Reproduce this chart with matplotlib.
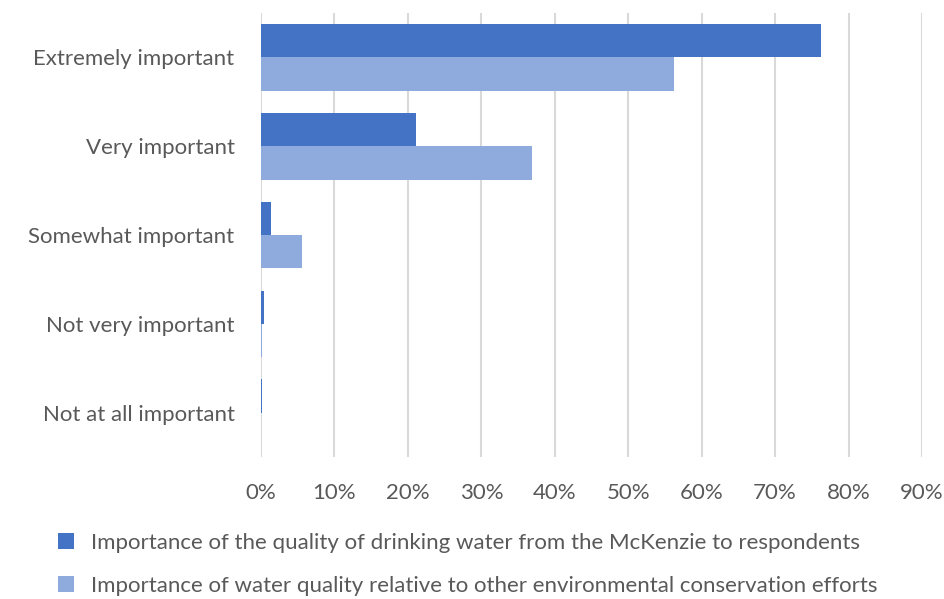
import numpy as np
import matplotlib.pyplot as plt
from matplotlib.ticker import PercentFormatter

categories = ["Extremely important", "Very important", "Somewhat important",
              "Not very important", "Not at all important"]
drinking = [76.3, 21.1, 1.4, 0.4, 0.1]
relative = [56.3, 36.9, 5.6, 0.1, 0.0]
series_names = [
    "Importance of the quality of drinking water from the McKenzie to respondents",
    "Importance of water quality relative to other environmental conservation efforts",
]
colors = ["#4472C4", "#8FAADC"]
text_color = "#595959"

plt.rcParams["font.family"] = ["Lato", "DejaVu Sans"]

fig = plt.figure(figsize=(9.45, 5.99), dpi=100)
ax = fig.add_axes([261 / 945, 1 - 457 / 599, (922 - 261) / 945, (457 - 13) / 599])

y = np.arange(len(categories))
h = 0.375
ax.barh(y - h / 2, drinking, height=h, color=colors[0], label=series_names[0])
ax.barh(y + h / 2, relative, height=h, color=colors[1], label=series_names[1])

ax.set_xlim(0, 90)
ax.set_ylim(len(categories) - 0.5, -0.5)
ax.set_xticks(np.arange(0, 91, 10))
ax.xaxis.set_major_formatter(PercentFormatter(decimals=0))
ax.set_yticks(y)
ax.set_yticklabels(categories)
ax.grid(axis="x", color="#d9d9d9", linewidth=1.5)
ax.set_axisbelow(True)
for s in ax.spines.values():
    s.set_visible(False)
ax.tick_params(length=0, colors=text_color, labelsize=16)
ax.tick_params(axis="y", pad=19)
ax.tick_params(axis="x", pad=19)

handles, labels = ax.get_legend_handles_labels()
fig.legend(handles, labels, loc="lower left", bbox_to_anchor=(58 / 945, 3 / 599),
           frameon=False, fontsize=16, labelcolor=text_color,
           borderpad=0, borderaxespad=0,
           handlelength=0.7, handleheight=0.7, handletextpad=0.8,
           labelspacing=1.05)

fig.savefig("out.png", dpi=100)
